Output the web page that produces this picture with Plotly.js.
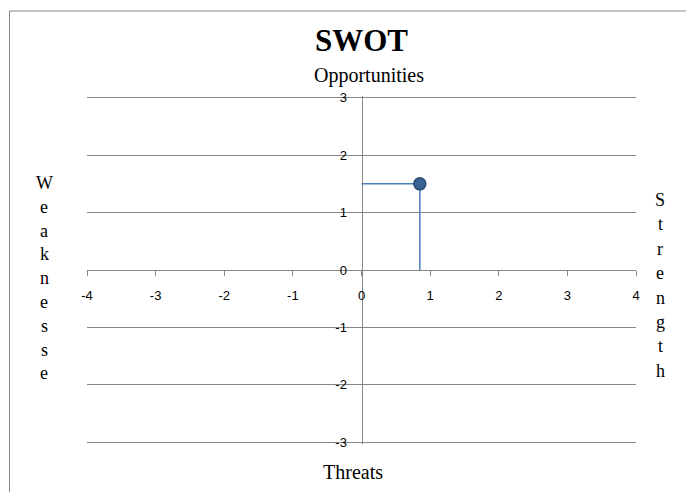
<!DOCTYPE html>
<html>
<head>
<meta charset="utf-8">
<script src="https://cdn.plot.ly/plotly-3.0.1.min.js"></script>
<style>html,body{margin:0;padding:0;background:#fff;}#chart{width:686px;height:492px;}</style>
</head>
<body>
<div id="chart"></div>
<script>
// Data
var pointX = [0.85];
var pointY = [1.5];
var xTicks = [-4, -3, -2, -1, 0, 1, 2, 3, 4];
var yTicks = [-3, -2, -1, 0, 1, 2, 3];
var titleText = 'SWOT';
var topLabel = 'Opportunities';
var bottomLabel = 'Threats';
var leftLabel = 'Weaknesse';
var rightLabel = 'Strength';

var W = 686, H = 492;
var L = 87, R = 50, T = 96, B = 48;
var pw = W - L - R, ph = H - T - B;
function px2x(px) { return (px - L) / pw; }
function py2y(py) { return (H - B - py) / ph; }

var serif = 'Liberation Serif, Times New Roman, serif';
var sans = 'Liberation Sans, Arial, sans-serif';

var trace = {
  x: pointX, y: pointY, type: 'scatter', mode: 'markers',
  marker: {symbol: 'circle', size: 12, color: '#3B6294', line: {color: '#2B4C74', width: 1.5}},
  error_x: {type: 'data', symmetric: false, array: pointX.map(function(){return 0;}), arrayminus: pointX, width: 0, thickness: 1.5, color: '#4A7EBB'},
  error_y: {type: 'data', symmetric: false, array: pointY.map(function(){return 0;}), arrayminus: pointY, width: 0, thickness: 1.5, color: '#4A7EBB'},
  hoverinfo: 'x+y', showlegend: false
};

var annotations = [
  {text: topLabel, xref: 'paper', yref: 'paper', x: px2x(369), y: py2y(75), showarrow: false, xanchor: 'center', yanchor: 'middle', font: {family: serif, size: 20, color: '#000'}},
  {text: bottomLabel, xref: 'paper', yref: 'paper', x: px2x(352.5), y: py2y(472), showarrow: false, xanchor: 'center', yanchor: 'middle', font: {family: serif, size: 20, color: '#000'}}
];
leftLabel.split('').forEach(function(ch, i) {
  annotations.push({text: ch, xref: 'paper', yref: 'paper', x: px2x(44), y: py2y(183 + i * 23.8), showarrow: false, xanchor: 'center', yanchor: 'middle', font: {family: serif, size: 18, color: '#000'}});
});
rightLabel.split('').forEach(function(ch, i) {
  annotations.push({text: ch, xref: 'paper', yref: 'paper', x: px2x(660), y: py2y(200 + i * 24.4), showarrow: false, xanchor: 'center', yanchor: 'middle', font: {family: serif, size: 18, color: '#000'}});
});

var layout = {
  width: W, height: H,
  margin: {l: L, r: R, t: T, b: B, pad: 0},
  paper_bgcolor: '#fff', plot_bgcolor: '#fff',
  title: {text: '<b>' + titleText + '</b>', font: {family: serif, size: 31, color: '#000'}, xref: 'paper', x: 0.5, xanchor: 'center', yref: 'container', y: 1 - 40 / H, yanchor: 'middle'},
  xaxis: {
    range: [-4, 4], tickvals: xTicks, ticktext: xTicks.map(String),
    anchor: 'free', position: 0.5, showgrid: false, zeroline: false,
    showline: true, linecolor: '#868686', linewidth: 1,
    ticks: 'outside', ticklen: 5, tickcolor: '#868686',
    ticklabelstandoff: 8,
    tickfont: {family: sans, size: 13, color: '#000'}, fixedrange: true
  },
  yaxis: {
    range: [-3.03, 3.03], tickvals: yTicks, ticktext: yTicks.map(String),
    anchor: 'free', position: 0.5, showgrid: true, gridcolor: '#868686', gridwidth: 1,
    zeroline: false, showline: true, linecolor: '#868686', linewidth: 1,
    ticks: '', ticklabelstandoff: 12,
    tickfont: {family: sans, size: 13, color: '#000'}, fixedrange: true
  },
  shapes: [
    {type: 'rect', xref: 'paper', yref: 'paper', x0: px2x(9.5), x1: 1.5, y0: -0.5, y1: py2y(11), line: {color: '#868686', width: 1}, fillcolor: 'rgba(0,0,0,0)', layer: 'below'}
  ],
  annotations: annotations,
  showlegend: false
};

Plotly.newPlot('chart', [trace], layout, {displayModeBar: false, staticPlot: true});
</script>
</body>
</html>
